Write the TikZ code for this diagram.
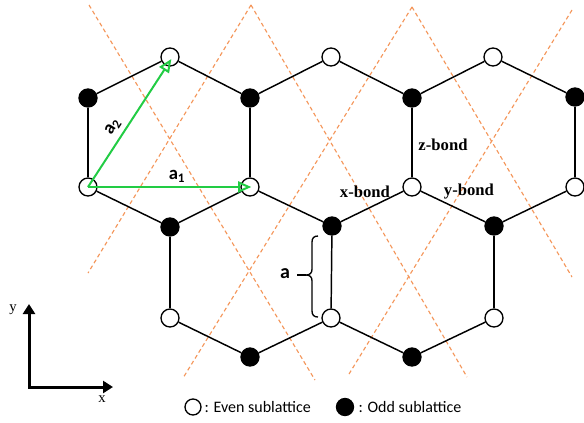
\documentclass[tikz,border=0pt]{standalone}
\usepackage{fontspec}
\setmainfont{Liberation Serif}
\newfontfamily\calibri{Carlito}
\usetikzlibrary{arrows.meta}
\definecolor{vecgreen}{RGB}{34,204,68}
\definecolor{cutorange}{RGB}{244,150,90}
\tikzset{every picture/.style={line width=0.75pt}}
\tikzset{
  evensite/.style={circle,draw,fill=white,line width=1pt,minimum size=13.5pt,inner sep=0pt},
  oddsite/.style={circle,draw,fill=black,line width=1pt,minimum size=13.5pt,inner sep=0pt},
  bond/.style={line width=1.1pt},
  cutline/.style={color=cutorange,line width=0.85pt,dash pattern=on 3pt off 2.2pt},
  latvec/.style={color=vecgreen,line width=1.5pt,-{Triangle[open,length=10pt,width=8.5pt]}},
}

\begin{document}
\begin{tikzpicture}[x=0.75pt,y=0.75pt,yscale=-1,xscale=1]
\useasboundingbox (0,0) rectangle (584,422);
%Dashed Lines
\draw [cutline] (89,5) -- (315,380) ;
\draw [cutline] (251,5) -- (88,273) ;
\draw [cutline] (251,5) -- (467,377) ;
\draw [cutline] (412,7) -- (183,378) ;
\draw [cutline] (412,7) -- (572,277) ;
\draw [cutline] (572,10) -- (349,374) ;
%Sites: even sublattice
\draw (170,57) node [evensite] (eA) {};
\draw (331,57) node [evensite] (eB) {};
\draw (493,57) node [evensite] (eC) {};
\draw (88,187) node [evensite] (eD) {};
\draw (250,187) node [evensite] (eE) {};
\draw (412,187) node [evensite] (eF) {};
\draw (575,187) node [evensite] (eG) {};
\draw (170,318) node [evensite] (eH) {};
\draw (331,318) node [evensite] (eI) {};
\draw (494,318) node [evensite] (eJ) {};
%Sites: odd sublattice
\draw (88,98) node [oddsite] (oA) {};
\draw (250,98) node [oddsite] (oB) {};
\draw (412,98) node [oddsite] (oC) {};
\draw (575,97) node [oddsite] (oD) {};
\draw (170,227) node [oddsite] (oE) {};
\draw (332,226) node [oddsite] (oF) {};
\draw (494,226) node [oddsite] (oG) {};
\draw (250,357) node [oddsite] (oH) {};
\draw (412,357) node [oddsite] (oI) {};
%Bonds
\foreach \s/\t in {oA/eA,eA/oB,oB/eB,eB/oC,oC/eC,eC/oD,
                   oA/eD,oB/eE,oC/eF,oD/eG,
                   eD/oE,oE/eE,eE/oF,oF/eF,eF/oG,oG/eG,
                   oE/eH,oF/eI,oG/eJ,
                   eH/oH,oH/eI,eI/oI,oI/eJ}
  \draw [bond] (\s) -- (\t) ;
%Lattice vectors
\draw [latvec] (eD.center) -- ([xshift=1pt]eE.center) ;
\draw [latvec] (eD.center) -- ([xshift=1pt,yshift=1.5pt]eA.center) ;
% Text Node
\draw (113,127) node [inner sep=0.75pt,rotate=58] [font=\calibri\bfseries\fontsize{14}{16}\selectfont] (lblAtwo) {a\textsubscript{2}};
% Text Node
\draw (177,176) node [inner sep=0.75pt] [font=\calibri\bfseries\fontsize{14}{16}\selectfont] (lblAone) {a\textsubscript{1}};
% Text Node
\draw (443,145) node [inner sep=0.75pt] [font=\bfseries\fontsize{12.5}{14}\selectfont] (lblZ) {z-bond};
% Text Node
\draw (365,192) node [inner sep=0.75pt] [font=\bfseries\fontsize{12.5}{14}\selectfont] (lblX) {x-bond};
% Text Node
\draw (469,192) node [inner sep=0.75pt] [font=\bfseries\fontsize{12.5}{14}\selectfont] (lblY) {y-bond};
%Shape: Brace
\draw [line width=1pt] (318,236) .. controls (314,236) and (312,238) .. (312,242) -- (312,269) .. controls (312,273) and (310,275) .. (306,275)
  .. controls (310,275) and (312,277) .. (312,281) -- (312,311) .. controls (312,315) and (314,317) .. (318,317) ;
\draw [line width=1pt] (306,275) -- (297,275) ;
% Text Node
\draw (285,274) node [inner sep=0.75pt] [font=\calibri\bfseries\fontsize{15}{17}\selectfont] (lblA) {a};
%Axes
\coordinate (axO) at (29,387) ;
\coordinate (axY) at (29,304) ;
\coordinate (axX) at (113,387) ;
\draw [line width=2.25pt,line join=miter,{Triangle[length=7.5pt,width=9pt]}-{Triangle[length=7.5pt,width=9pt]}] (axY) -- (axO) -- (axX) ;
% Text Node
\draw (13,310) node [inner sep=0.75pt] [font=\fontsize{11}{13}\selectfont] (lblYax) {y};
% Text Node
\draw (102,399) node [inner sep=0.75pt] [font=\fontsize{11}{13}\selectfont] (lblXax) {x};
%Legend
\draw (193,407) node [evensite,minimum size=12pt] (legEven) {};
\draw (203,407) node [anchor=west,inner sep=0.75pt] [font=\calibri\fontsize{12}{14}\selectfont] (txtEven) {: Even sublattice};
\draw (345,407) node [oddsite,minimum size=12.75pt] (legOdd) {};
\draw (357,407) node [anchor=west,inner sep=0.75pt] [font=\calibri\fontsize{12}{14}\selectfont] (txtOdd) {: Odd sublattice};
\end{tikzpicture}
\end{document}
